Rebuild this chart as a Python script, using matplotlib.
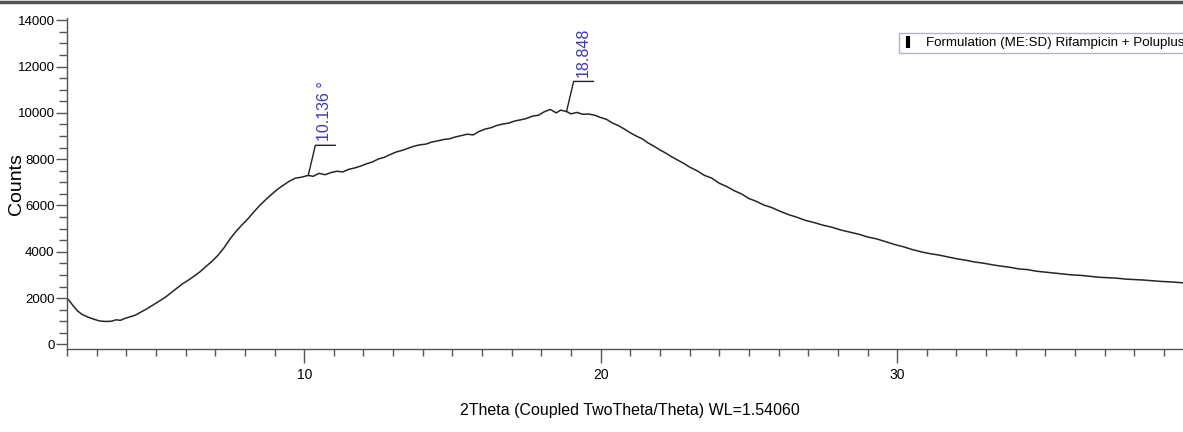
import numpy as np
import matplotlib.pyplot as plt
from matplotlib.lines import Line2D
from matplotlib.ticker import MultipleLocator

# XRD pattern
two_theta = [2.0, 2.1, 2.2, 2.35, 2.5, 2.7, 2.9, 3.1, 3.3, 3.5, 3.65, 3.8, 3.95,
             4.1, 4.3, 4.5, 4.7, 4.9, 5.1, 5.3, 5.5, 5.7, 5.9, 6.1, 6.3, 6.5, 6.7,
             6.9, 7.1, 7.3, 7.5, 7.7, 7.9, 8.1, 8.3, 8.5, 8.7, 8.9, 9.1, 9.3, 9.5,
             9.7, 9.9, 10.136, 10.3, 10.5, 10.7, 10.9, 11.1, 11.3, 11.5, 11.7, 11.9,
             12.1, 12.3, 12.5, 12.7, 12.9, 13.1, 13.3, 13.5, 13.7, 13.9, 14.1, 14.3,
             14.5, 14.7, 14.9, 15.1, 15.3, 15.5, 15.7, 15.9, 16.1, 16.3, 16.5, 16.7,
             16.9, 17.1, 17.3, 17.5, 17.7, 17.9, 18.1, 18.3, 18.5, 18.65, 18.848,
             19.0, 19.2, 19.4, 19.6, 19.8, 20.0, 20.2, 20.4, 20.6, 20.8, 21.0, 21.2,
             21.4, 21.6, 21.8, 22.0, 22.2, 22.4, 22.6, 22.8, 23.0, 23.25, 23.5,
             23.75, 24.0, 24.25, 24.5, 24.75, 25.0, 25.25, 25.5, 25.75, 26.0, 26.3,
             26.6, 26.9, 27.2, 27.5, 27.8, 28.1, 28.4, 28.7, 29.0, 29.3, 29.6, 29.9,
             30.2, 30.5, 30.8, 31.1, 31.4, 31.7, 32.0, 32.3, 32.6, 32.9, 33.2, 33.5,
             33.8, 34.1, 34.4, 34.7, 35.0, 35.3, 35.6, 35.9, 36.2, 36.5, 36.8, 37.1,
             37.4, 37.7, 38.0, 38.3, 38.6, 38.9, 39.2, 39.64]
counts = [2000, 1850, 1680, 1450, 1300, 1180, 1090, 1010, 990, 1000, 1060, 1040, 1120,
          1180, 1260, 1400, 1540, 1700, 1860, 2020, 2220, 2420, 2620, 2780, 2960, 3150, 3380,
          3600, 3860, 4180, 4560, 4880, 5160, 5420, 5720, 6000, 6250, 6480, 6700, 6880, 7050,
          7180, 7220, 7300, 7260, 7390, 7330, 7420, 7480, 7450, 7560, 7620, 7700,
          7800, 7880, 8010, 8080, 8200, 8310, 8380, 8470, 8560, 8620, 8650, 8740,
          8790, 8850, 8880, 8960, 9020, 9080, 9050, 9200, 9300, 9360, 9460, 9520,
          9560, 9650, 9700, 9760, 9860, 9900, 10050, 10150, 10000, 10120, 10060,
          9960, 10020, 9940, 9950, 9900, 9800, 9720, 9560, 9450, 9300, 9140, 9000,
          8880, 8700, 8560, 8400, 8260, 8100, 7960, 7820, 7660, 7500, 7300,
          7180, 6960, 6820, 6640, 6500, 6300, 6180, 6020, 5920, 5780, 5620,
          5500, 5360, 5260, 5150, 5060, 4940, 4850, 4760, 4640, 4560, 4440, 4320,
          4220, 4100, 4000, 3920, 3860, 3780, 3700, 3640, 3560, 3510, 3440, 3380,
          3330, 3260, 3230, 3160, 3120, 3080, 3040, 3000, 2980, 2940, 2900, 2880,
          2860, 2820, 2800, 2780, 2750, 2720, 2700, 2660]

peak_pos = [10.136, 18.848]
peak_text = ["10.136 °", "18.848"]
sample_name = "Formulation (ME:SD) Rifampicin + Poluplus"

plt.rcParams['font.family'] = ['Liberation Sans', 'DejaVu Sans']

W, H = 1183, 432
fig = plt.figure(figsize=(W / 100, H / 100), dpi=100)
ax = fig.add_axes([67 / W, 83 / H, 1116 / W, 331 / H])

ax.plot(two_theta, counts, color='#262626', lw=1.1)
ax.set_xlim(2, 39.64)
ax.set_ylim(-200, 14100)

ax.xaxis.set_major_locator(MultipleLocator(10))
ax.xaxis.set_minor_locator(MultipleLocator(1))
ax.yaxis.set_major_locator(MultipleLocator(2000))
ax.yaxis.set_minor_locator(MultipleLocator(500))

for s in ['top', 'right']:
    ax.spines[s].set_visible(False)
for s in ['left', 'bottom']:
    ax.spines[s].set_color('#555555')
    ax.spines[s].set_linewidth(1.0)

ax.tick_params(axis='y', which='major', length=8, width=1, color='#555555',
               labelsize=9.5, pad=1)
ax.tick_params(axis='y', which='minor', length=6, width=1, color='#555555')
ax.tick_params(axis='x', which='major', length=10, width=1, color='#555555',
               labelsize=10, pad=4)
ax.tick_params(axis='x', which='minor', length=5, width=1, color='#555555')

# peak markers with leader lines
blue = '#3a3aae'
for pos, txt in zip(peak_pos, peak_text):
    y0 = counts[two_theta.index(pos)]
    ytop = y0 + 1300
    ax.plot([pos, pos + 0.24, pos + 0.91], [y0, ytop, ytop], color='#222222',
            lw=1.0, clip_on=False)
    ax.text(pos + 0.56, ytop + 200, txt, rotation=90, color=blue, fontsize=11.5,
            ha='center', va='bottom')

handle = Line2D([], [], color='black', marker='|', ls='none', ms=9, mew=3)
leg = ax.legend([handle], [sample_name], loc='upper right',
                bbox_to_anchor=(1188 / W, 1 - 33 / H), bbox_transform=fig.transFigure,
                fontsize=9.6, frameon=True, fancybox=False, borderpad=0.3,
                handlelength=0.8, handletextpad=0.9, borderaxespad=0)
leg.get_frame().set_edgecolor('#9aa4b4')
leg.get_frame().set_linewidth(1.0)

fig.text(17 / W, 1 - 184 / H, 'Counts', rotation=90, fontsize=14,
         ha='center', va='center')
fig.text(630 / W, 1 - 411 / H, '2Theta (Coupled TwoTheta/Theta) WL=1.54060',
         fontsize=11.5, ha='center', va='center')

# frame line along the top edge
fig.add_artist(Line2D([0, 1], [1 - 2 / H, 1 - 2 / H], color='#555555', lw=2.5,
                      transform=fig.transFigure))

fig.savefig('out.png', dpi=100)
